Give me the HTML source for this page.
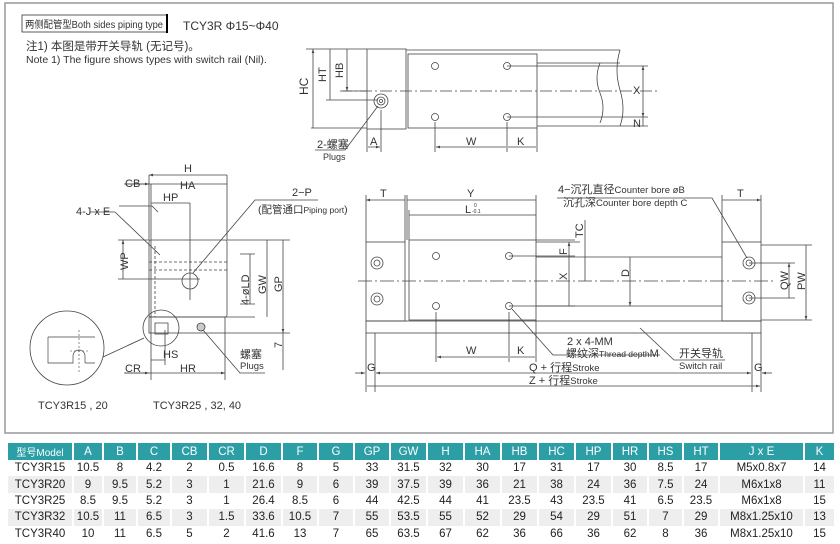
<!DOCTYPE html>
<html><head><meta charset="utf-8"><style>
body{margin:0;background:#fff;width:840px;height:544px;overflow:hidden;font-family:"Liberation Sans","Noto Sans CJK SC",sans-serif}
svg{position:absolute;left:0;top:0}
table{position:absolute;left:6px;top:443px;border-collapse:collapse;font-size:11.5px;color:#222}
td{height:16.4px;padding:0;text-align:center;border-left:2px solid #fff}
tr.h td{background:#2c9ea6;color:#fff;height:17px}
tr.g td{background:#eeeeee}
</style></head><body>
<svg width="840" height="544" viewBox="0 0 840 544" font-family="Liberation Sans, Noto Sans CJK SC, sans-serif" fill="none" stroke="#444" stroke-width="0.8">
<defs><marker id="a" viewBox="0 0 6 6" refX="6" refY="3" markerWidth="5" markerHeight="5" orient="auto-start-reverse"><path d="M0,1 L6,3 L0,5z" fill="#444" stroke="none"/></marker></defs>
<rect x="5" y="3" width="828" height="430" stroke="#999" stroke-width="1.5"/>
<rect x="22" y="15" width="145" height="17" stroke="#333"/>
<line x1="167" y1="14" x2="167" y2="33" stroke="#000" stroke-width="2"/>
<g fill="#333" stroke="none" font-size="11">
<text x="25" y="28" font-size="10" textLength="138" lengthAdjust="spacingAndGlyphs">两侧配管型Both sides piping type</text>
<text x="183" y="30" font-size="12">TCY3R Φ15~Φ40</text>
<text x="26" y="50" font-size="11.5">注1) 本图是带开关导轨 (无记号)。</text>
<text x="26" y="63" font-size="10.5">Note 1) The figure shows types with switch rail (Nil).</text>
</g>
<!-- TOP VIEW -->
<rect x="367" y="49" width="39" height="80"/>
<rect x="408" y="54" width="129" height="74"/>
<path d="M406,50 H620 M537,126 H625 M537,63 H620"/>
<path d="M600,63 q-6,15 0,30 q6,15 0,30 M620,50 q-6,20 0,40 q6,20 0,36"/>
<path d="M340,91 H660" stroke-dasharray="12 3 2 3"/>
<circle cx="381" cy="101" r="7"/><circle cx="381" cy="101" r="4"/><circle cx="381" cy="101" r="1.5"/>
<g><circle cx="435" cy="66" r="3.5"/><circle cx="507" cy="66" r="3.5"/><circle cx="435" cy="117" r="3.5"/><circle cx="507" cy="117" r="3.5"/></g>
<path d="M306,49 H367 M326,100 H378 M343,91 H367 M311,128 H367"/>
<path d="M313,49 V128 M330,49 V100 M347,49 V91" marker-start="url(#a)" marker-end="url(#a)"/>
<path d="M507,66 H648 M507,117 H648 M625,126 H648"/>
<path d="M643,66 V117" marker-start="url(#a)" marker-end="url(#a)"/>
<path d="M643,117 V126"/>
<path d="M367,129 V152 M381,110 V152 M435,122 V152 M507,122 V152 M537,128 V152"/>
<path d="M436,147 H506 M508,147 H536 M368,147 H380" marker-start="url(#a)" marker-end="url(#a)"/>
<path d="M378,106 L345,150 H315"/>
<g fill="#333" stroke="none" font-size="11">
<text x="308" y="95" transform="rotate(-90 308 95)" font-size="12">HC</text>
<text x="326" y="82" transform="rotate(-90 326 82)">HT</text>
<text x="343" y="78" transform="rotate(-90 343 78)">HB</text>
<text x="633" y="94">X</text><text x="633" y="127">N</text>
<text x="466" y="145">W</text><text x="517" y="145">K</text><text x="370" y="145">A</text>
<text x="317" y="148" font-size="11">2-螺塞</text><text x="323" y="160" font-size="9">Plugs</text>
</g>
<!-- END VIEW -->
<rect x="149" y="240" width="78" height="77" rx="2"/>
<rect x="149" y="317" width="76" height="16"/>
<path d="M149,175 V240 M227,175 V240 M151,184 V240 M190,203 V300 M124,184 H151 M124,373 H151"/>
<path d="M149,175 H227 M151,184 H227 M151,203 H190 M151,360 H165 M151,373 H225" marker-start="url(#a)" marker-end="url(#a)"/>
<path d="M125,184 H149" marker-end="url(#a)"/><path d="M125,373 H149" marker-end="url(#a)"/>
<path d="M151,240 V380 M225,333 V380 M165,330 V365" />
<path d="M155,246 V317 M149,262 H228 M149,270 H228" stroke-dasharray="3 2"/>
<circle cx="190" cy="281" r="8"/>
<path d="M118,240 H149 M118,279 H200 M227,240 H290 M240,254 H255 M240,304 H255 M225,317 H255 M225,333 H290"/>
<path d="M123,240 V279 M250,254 V304 M267,240 V317 M283,240 V333" marker-start="url(#a)" marker-end="url(#a)"/>
<path d="M283,333 V370"/>
<circle cx="161" cy="328" r="18"/><circle cx="67" cy="348" r="37"/>
<path d="M103,357 L144,338"/>
<path d="M48,337 H95 M48,337 V363 H73 V356 M85,363 H95 M48,363" stroke-width="0.7"/>
<path d="M73,356 a6,6 0 1 1 12,0 V363" stroke-width="0.7"/>
<path d="M79,330 V372 M70,351 H88" stroke-dasharray="2 2" stroke-width="0.6"/>
<path d="M155,323 H168 V334 H155 Z"/>
<circle cx="201" cy="327" r="4" fill="#ccc"/>
<path d="M203,330 L240,373 H265"/>
<path d="M119,206 L152,206 L158,212 M160,255 L115,212" />
<path d="M193,273 L255,200 H318"/>
<path d="M90,212 H115"/>
<g fill="#333" stroke="none" font-size="11">
<text x="184" y="172">H</text><text x="180" y="189">HA</text><text x="125" y="187">CB</text><text x="163" y="201">HP</text>
<text x="76" y="215">4-J x E</text>
<text x="292" y="196">2−P</text><text x="258" y="213" font-size="10.5">(配管通口<tspan font-size="8.5">Piping port</tspan>)</text>
<text x="128" y="270" transform="rotate(-90 128 270)">WP</text>
<text x="249" y="305" transform="rotate(-90 249 305)">4-øLD</text>
<text x="266" y="294" transform="rotate(-90 266 294)">GW</text>
<text x="282" y="292" transform="rotate(-90 282 292)">GP</text>
<text x="282" y="348" transform="rotate(-90 282 348)">7</text>
<text x="163" y="358">HS</text><text x="180" y="372">HR</text><text x="125" y="372">CR</text>
<text x="240" y="358">螺塞</text><text x="240" y="369" font-size="9.5">Plugs</text>
<text x="38" y="409">TCY3R15 , 20</text><text x="153" y="409">TCY3R25 , 32, 40</text>
</g>
<!-- SIDE VIEW -->
<rect x="366" y="242" width="39" height="79"/>
<rect x="409" y="240" width="127" height="80"/>
<rect x="722" y="242" width="39" height="79"/>
<rect x="366" y="321" width="395" height="12"/>
<path d="M536,257 H722 M536,306 H722"/>
<path d="M358,281 H775" stroke-dasharray="14 3 2 3"/>
<g><circle cx="377" cy="263" r="6"/><circle cx="377" cy="263" r="3"/><circle cx="377" cy="299" r="6"/><circle cx="377" cy="299" r="3"/>
<circle cx="749" cy="263" r="6"/><circle cx="749" cy="263" r="3"/><circle cx="749" cy="298" r="6"/><circle cx="749" cy="298" r="3"/>
<circle cx="436" cy="256" r="3.5"/><circle cx="509" cy="256" r="3.5"/><circle cx="436" cy="306" r="3.5"/><circle cx="509" cy="306" r="3.5"/></g>
<path d="M366,195 V242 M405,195 V242 M407,195 V240 M536,195 V240 M409,210 V240 M722,195 V242 M761,195 V242"/>
<path d="M366,200 H405 M407,200 H536 M409,215 H536 M722,200 H761" marker-start="url(#a)" marker-end="url(#a)"/>
<path d="M509,256 H575 M509,306 H575 M536,240 H575 M536,242 H580"/>
<path d="M569,242 V256 M569,256 V306 M585,220 V281 M630,257 V306" marker-start="url(#a)" marker-end="url(#a)"/>
<path d="M749,263 H795 M749,298 H795 M761,245 H812 M761,320 H812"/>
<path d="M789,263 V298 M806,245 V320" marker-start="url(#a)" marker-end="url(#a)"/>
<path d="M436,312 V362 M509,312 V362 M536,320 V362 M375,333 V392 M752,333 V392 M366,333 V392 M761,333 V392"/>
<path d="M437,357 H508 M510,357 H535 M367,386 H760" marker-start="url(#a)" marker-end="url(#a)"/>
<path d="M355,373 H365" marker-end="url(#a)"/><path d="M376,373 H751" marker-start="url(#a)" marker-end="url(#a)"/><path d="M772,373 H762" marker-end="url(#a)"/>
<path d="M512,309 L553,355 H660"/>
<path d="M640,328 L674,360 H725"/>
<path d="M557,198 H712 L747,258"/>
<g fill="#333" stroke="none" font-size="11">
<text x="380" y="197">T</text><text x="467" y="197">Y</text><text x="465" y="213">L</text><text x="474" y="207" font-size="5">0</text><text x="472" y="213" font-size="5">-0.1</text>
<text x="737" y="197">T</text>
<text x="558" y="193" font-size="11">4−沉孔直径<tspan font-size="9.5">Counter bore øB</tspan></text>
<text x="563" y="206" font-size="11">沉孔深<tspan font-size="9.5">Counter bore depth C</tspan></text>
<text x="583" y="238" transform="rotate(-90 583 238)">TC</text>
<text x="567" y="255" transform="rotate(-90 567 255)">F</text>
<text x="567" y="280" transform="rotate(-90 567 280)">X</text>
<text x="629" y="277" transform="rotate(-90 629 277)">D</text>
<text x="788" y="290" transform="rotate(-90 788 290)">QW</text>
<text x="805" y="290" transform="rotate(-90 805 290)">PW</text>
<text x="567" y="345">2 x 4-MM</text>
<text x="566" y="357" font-size="11">螺纹深<tspan font-size="8.5">Thread depth</tspan>M</text>
<text x="679" y="357" font-size="11">开关导轨</text><text x="679" y="369" font-size="9.5">Switch rail</text>
<text x="466" y="354">W</text><text x="517" y="354">K</text>
<text x="367" y="371">G</text><text x="754" y="371">G</text>
<text x="529" y="371" font-size="11">Q + 行程<tspan font-size="9.5">Stroke</tspan></text>
<text x="529" y="384" font-size="11">Z + 行程<tspan font-size="9.5">Stroke</tspan></text>
</g>
</svg>
<table>
<colgroup><col style="width:66px"><col style="width:30px"><col style="width:34px"><col style="width:34px"><col style="width:37px"><col style="width:37px"><col style="width:37px"><col style="width:36px"><col style="width:36px"><col style="width:36px"><col style="width:37px"><col style="width:37px"><col style="width:37px"><col style="width:37px"><col style="width:37px"><col style="width:37px"><col style="width:36px"><col style="width:35px"><col style="width:36px"><col style="width:85px"><col style="width:30px"></colgroup>
<tr class="h"><td><span style="font-size:10px">型号Model</span></td><td>A</td><td>B</td><td>C</td><td>CB</td><td>CR</td><td>D</td><td>F</td><td>G</td><td>GP</td><td>GW</td><td>H</td><td>HA</td><td>HB</td><td>HC</td><td>HP</td><td>HR</td><td>HS</td><td>HT</td><td>J x E</td><td>K</td></tr>
<tr><td>TCY3R15</td><td>10.5</td><td>8</td><td>4.2</td><td>2</td><td>0.5</td><td>16.6</td><td>8</td><td>5</td><td>33</td><td>31.5</td><td>32</td><td>30</td><td>17</td><td>31</td><td>17</td><td>30</td><td>8.5</td><td>17</td><td>M5x0.8x7</td><td>14</td></tr>
<tr class="g"><td>TCY3R20</td><td>9</td><td>9.5</td><td>5.2</td><td>3</td><td>1</td><td>21.6</td><td>9</td><td>6</td><td>39</td><td>37.5</td><td>39</td><td>36</td><td>21</td><td>38</td><td>24</td><td>36</td><td>7.5</td><td>24</td><td>M6x1x8</td><td>11</td></tr>
<tr><td>TCY3R25</td><td>8.5</td><td>9.5</td><td>5.2</td><td>3</td><td>1</td><td>26.4</td><td>8.5</td><td>6</td><td>44</td><td>42.5</td><td>44</td><td>41</td><td>23.5</td><td>43</td><td>23.5</td><td>41</td><td>6.5</td><td>23.5</td><td>M6x1x8</td><td>15</td></tr>
<tr class="g"><td>TCY3R32</td><td>10.5</td><td>11</td><td>6.5</td><td>3</td><td>1.5</td><td>33.6</td><td>10.5</td><td>7</td><td>55</td><td>53.5</td><td>55</td><td>52</td><td>29</td><td>54</td><td>29</td><td>51</td><td>7</td><td>29</td><td>M8x1.25x10</td><td>13</td></tr>
<tr><td>TCY3R40</td><td>10</td><td>11</td><td>6.5</td><td>5</td><td>2</td><td>41.6</td><td>13</td><td>7</td><td>65</td><td>63.5</td><td>67</td><td>62</td><td>36</td><td>66</td><td>36</td><td>62</td><td>8</td><td>36</td><td>M8x1.25x10</td><td>15</td></tr>
</table>
</body></html>
